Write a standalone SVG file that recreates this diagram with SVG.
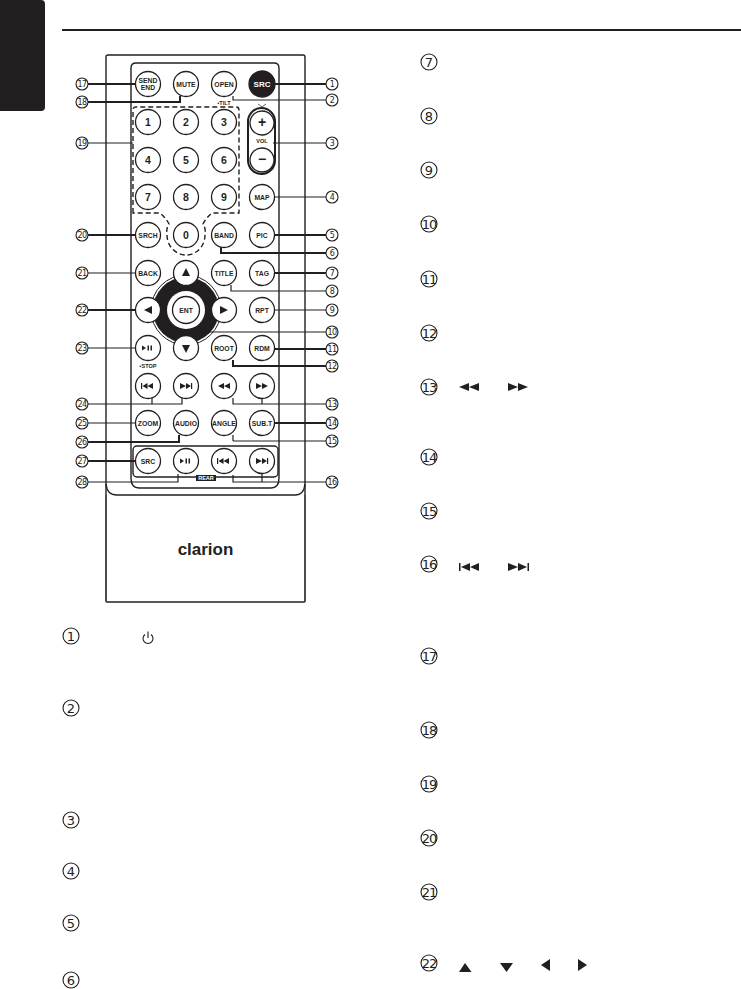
<svg xmlns="http://www.w3.org/2000/svg" width="741" height="989" viewBox="0 0 741 989">
<style>
.bg{fill:#fff}
.o{fill:none;stroke:#231f20;stroke-width:1.4}
.b circle{fill:#fff;stroke:#231f20;stroke-width:1.3}
.b text{font:bold 6.8px "Liberation Sans",Arial,sans-serif;fill:#231f20;text-anchor:middle}
.n text{font-size:10.5px}
.k{fill:#231f20}
.c{fill:none;stroke:#231f20;stroke-width:1.2}
.t{fill:none;stroke:#231f20;stroke-width:2}
.s circle{fill:#fff;stroke:#231f20;stroke-width:1.1}
.s text{font:8px "DejaVu Sans",sans-serif;fill:#231f20;text-anchor:middle;letter-spacing:-.6px}
.l circle{fill:#fff;stroke:#231f20;stroke-width:1.1}
.l text{font:13px "DejaVu Sans",sans-serif;fill:#231f20;text-anchor:middle}
.m{font:bold 5.5px "Liberation Sans",Arial,sans-serif;fill:#231f20;text-anchor:middle}
</style>
<rect class="bg" width="741" height="989"/>
<path class="k" d="M0 0H41Q45 0 45 4V107Q45 111 41 111H0Z"/>
<rect class="k" x="62" y="29" width="679" height="2"/>

<g id="remote">
<path class="o" d="M106 495V57Q106 55 108 55H303Q305 55 305 57V495"/>
<path class="o" d="M131 478V68Q131 63 136 63H274Q279 63 279 68V478"/>
<path class="o" d="M131 478Q131 488 139 488H271Q279 488 279 478"/>
<path class="o" d="M106 484Q107 495 117 495H295Q304 495 305 484"/>
<path d="M106 495V601Q106 602 107 602H304Q305 602 305 601V495" fill="none" stroke="#231f20" stroke-width="1.6"/>
<rect class="o" x="133" y="446" width="145" height="31" rx="4"/>
<path d="M133 213V110Q133 107 136 107H236Q239 107 239 110V213H212Q206 218 203 224Q206 228 205 235A19 20 0 0 1 167 235Q166 228 169 224Q166 218 160 213Z" fill="none" stroke="#231f20" stroke-width="1.4" stroke-dasharray="5 3"/>
<rect x="248" y="108" width="27" height="66" rx="13.5" fill="#fff" stroke="#231f20" stroke-width="2"/>
<circle cx="186" cy="310" r="35" fill="#fff" stroke="#231f20" stroke-width="1"/>
<circle class="k" cx="186" cy="310" r="33"/>
<text class="m" x="224" y="105">▪TILT</text>
<text class="m" x="262" y="143">VOL</text>
<text class="m" x="148" y="368">▪STOP</text>
<rect class="k" x="196" y="475" width="20" height="6"/>
<text x="206" y="480.300" font-family="Liberation Sans,sans-serif" font-size="5.500" font-weight="bold" fill="#fff" text-anchor="middle">REAR</text>
<path d="M258 104L262 107L266 104" fill="none" stroke="#231f20" stroke-width=".7"/>
<text x="205.500" y="555" font-family="Liberation Sans,sans-serif" font-size="17" font-weight="bold" fill="#231f20" text-anchor="middle">clarion</text>
</g>

<g id="connectors">
<path class="t" d="M88 84H136M88 102H180V96M88 235H136M88 310H136M88 442H179V435M88 461H136"/>
<path class="c" d="M88 143H133M88 273H136M88 348H136M88 404H182V398M152 404V398M88 423H136M88 482H178V474"/>
<path class="t" d="M275 84H326M275 235H326M221 247V253H326M275 273H326M274 349H326M233 360V366H326M275 423H326"/>
<path class="c" d="M233 96V100H326M273 143H326M274 197H326M231 285V291H326M274 310H326M190 325V332H326M233 398V404H326M262 398V404M233 441H326M233 435V441M233 475V482H326M262 474V482"/>
</g>

<g id="btn-send" class="b"><circle cx="148" cy="84" r="12.500"/><text x="148" y="83">SEND</text><text x="148" y="90">END</text></g>
<g id="btn-mute" class="b"><circle cx="186" cy="84" r="12.500"/><text x="186" y="86.500">MUTE</text></g>
<g id="btn-open" class="b"><circle cx="224" cy="84" r="12.500"/><text x="224" y="86.500">OPEN</text></g>
<g id="btn-src" class="b"><circle cx="262" cy="84" r="13" style="fill:#231f20"/><text x="262" y="87" style="fill:#fff;font-size:8px">SRC</text></g>
<g id="btn-1" class="b n"><circle cx="148" cy="122" r="12.500"/><text x="148" y="126">1</text></g>
<g id="btn-2" class="b n"><circle cx="186" cy="122" r="12.500"/><text x="186" y="126">2</text></g>
<g id="btn-3" class="b n"><circle cx="224" cy="122" r="12.500"/><text x="224" y="126">3</text></g>
<g id="btn-4" class="b n"><circle cx="148" cy="160" r="12.500"/><text x="148" y="164">4</text></g>
<g id="btn-5" class="b n"><circle cx="186" cy="160" r="12.500"/><text x="186" y="164">5</text></g>
<g id="btn-6" class="b n"><circle cx="224" cy="160" r="12.500"/><text x="224" y="164">6</text></g>
<g id="btn-7" class="b n"><circle cx="148" cy="197" r="12.500"/><text x="148" y="201">7</text></g>
<g id="btn-8" class="b n"><circle cx="186" cy="197" r="12.500"/><text x="186" y="201">8</text></g>
<g id="btn-9" class="b n"><circle cx="224" cy="197" r="12.500"/><text x="224" y="201">9</text></g>
<g id="btn-0" class="b n"><circle cx="186" cy="235" r="12.500"/><text x="186" y="239">0</text></g>
<g id="btn-plus" class="b n"><circle cx="262" cy="123" r="12"/><text x="262" y="127" style="font-size:14px">+</text></g>
<g id="btn-minus" class="b n"><circle cx="262" cy="160" r="12"/><text x="262" y="164" style="font-size:14px">−</text></g>
<g id="btn-map" class="b"><circle cx="262" cy="197" r="12.500"/><text x="262" y="199.500">MAP</text></g>
<g id="btn-srch" class="b"><circle cx="148" cy="235" r="12.500"/><text x="148" y="237.500">SRCH</text></g>
<g id="btn-band" class="b"><circle cx="224" cy="235" r="12.500"/><text x="224" y="237.500">BAND</text></g>
<g id="btn-pic" class="b"><circle cx="262" cy="235" r="12.500"/><text x="262" y="237.500">PIC</text></g>
<g id="btn-back" class="b"><circle cx="148" cy="273" r="12.500"/><text x="148" y="275.500">BACK</text></g>
<g id="btn-up" class="b"><circle cx="186" cy="273" r="12.500"/><path class="k" d="M186 268L190 276H182Z"/></g>
<g id="btn-title" class="b"><circle cx="224" cy="273" r="12.500"/><text x="224" y="275.500">TITLE</text></g>
<g id="btn-tag" class="b"><circle cx="262" cy="273" r="12.500"/><text x="262" y="275.500">TAG</text></g>
<g id="btn-left" class="b"><circle cx="148" cy="310" r="12.500"/><path class="k" d="M144 310L152 306V314Z"/></g>
<g id="btn-ent" class="b"><circle cx="186" cy="310" r="19" style="fill:#fff;stroke:none"/><circle cx="186" cy="310" r="13.500"/><text x="186" y="312.500">ENT</text></g>
<g id="btn-right" class="b"><circle cx="224" cy="310" r="12.500"/><path class="k" d="M228 310L220 306V314Z"/></g>
<g id="btn-rpt" class="b"><circle cx="262" cy="310" r="12.500"/><text x="262" y="312.500">RPT</text></g>
<g id="btn-play" class="b"><circle cx="148" cy="348" r="12.500"/><path class="k" d="M142 345.500V350.500L146 348ZM147.500 345.500H149V350.500H147.500ZM150.500 345.500H152V350.500H150.500Z"/></g>
<g id="btn-down" class="b"><circle cx="186" cy="348" r="12.500"/><path class="k" d="M186 353L190 345H182Z"/></g>
<g id="btn-root" class="b"><circle cx="224" cy="348" r="12.500"/><text x="224" y="350.500">ROOT</text></g>
<g id="btn-rdm" class="b"><circle cx="262" cy="348" r="12.500"/><text x="262" y="350.500">RDM</text></g>
<g id="btn-prev" class="b"><circle cx="148" cy="386" r="12.500"/><path class="k" d="M141 383H142.200V389H141ZM142.500 386L147.500 383V389ZM147.500 386L153 383V389Z"/></g>
<g id="btn-next" class="b"><circle cx="186" cy="386" r="12.500"/><path class="k" d="M191 383H192.200V389H191ZM191 386L186 383V389ZM186 386L180 383V389Z"/></g>
<g id="btn-rew" class="b"><circle cx="224" cy="386" r="12.500"/><path class="k" d="M218 386L224 383V389ZM224 386L230 383V389Z"/></g>
<g id="btn-ff" class="b"><circle cx="262" cy="386" r="12.500"/><path class="k" d="M268 386L262 383V389ZM262 386L256 383V389Z"/></g>
<g id="btn-zoom" class="b"><circle cx="148" cy="423" r="12.500"/><text x="148" y="425.500">ZOOM</text></g>
<g id="btn-audio" class="b"><circle cx="186" cy="423" r="12.500"/><text x="186" y="425.500">AUDIO</text></g>
<g id="btn-angle" class="b"><circle cx="224" cy="423" r="12.500"/><text x="224" y="425.500">ANGLE</text></g>
<g id="btn-subt" class="b"><circle cx="262" cy="423" r="12.500"/><text x="262" y="425.500">SUB.T</text></g>
<g id="btn-rsrc" class="b"><circle cx="148" cy="461" r="12.500"/><text x="148" y="463.500">SRC</text></g>
<g id="btn-rplay" class="b"><circle cx="186" cy="461" r="12.500"/><path class="k" d="M180 458.500V463.500L184 461ZM185.500 458.500H187V463.500H185.500ZM188.500 458.500H190V463.500H188.500Z"/></g>
<g id="btn-rprev" class="b"><circle cx="224" cy="461" r="12.500"/><path class="k" d="M217 458H218.200V464H217ZM218.500 461L223.500 458V464ZM223.500 461L229 458V464Z"/></g>
<g id="btn-rnext" class="b"><circle cx="262" cy="461" r="12.500"/><path class="k" d="M267 458H268.200V464H267ZM267 461L262 458V464ZM262 461L256 458V464Z"/></g>

<g id="callouts-left" class="s">
<circle cx="82" cy="84" r="6"/><text x="82" y="87">17</text>
<circle cx="82" cy="102" r="6"/><text x="82" y="105">18</text>
<circle cx="82" cy="143" r="6"/><text x="82" y="146">19</text>
<circle cx="82" cy="235" r="6"/><text x="82" y="238">20</text>
<circle cx="82" cy="273" r="6"/><text x="82" y="276">21</text>
<circle cx="82" cy="310" r="6"/><text x="82" y="313">22</text>
<circle cx="82" cy="348" r="6"/><text x="82" y="351">23</text>
<circle cx="82" cy="404" r="6"/><text x="82" y="407">24</text>
<circle cx="82" cy="423" r="6"/><text x="82" y="426">25</text>
<circle cx="82" cy="442" r="6"/><text x="82" y="445">26</text>
<circle cx="82" cy="461" r="6"/><text x="82" y="464">27</text>
<circle cx="82" cy="482" r="6"/><text x="82" y="485">28</text>
</g>
<g id="callouts-right" class="s">
<circle cx="332" cy="84" r="6"/><text x="332" y="87">1</text>
<circle cx="332" cy="100" r="6"/><text x="332" y="103">2</text>
<circle cx="332" cy="143" r="6"/><text x="332" y="146">3</text>
<circle cx="332" cy="197" r="6"/><text x="332" y="200">4</text>
<circle cx="332" cy="235" r="6"/><text x="332" y="238">5</text>
<circle cx="332" cy="253" r="6"/><text x="332" y="256">6</text>
<circle cx="332" cy="273" r="6"/><text x="332" y="276">7</text>
<circle cx="332" cy="291" r="6"/><text x="332" y="294">8</text>
<circle cx="332" cy="310" r="6"/><text x="332" y="313">9</text>
<circle cx="332" cy="332" r="6"/><text x="332" y="335">10</text>
<circle cx="332" cy="349" r="6"/><text x="332" y="352">11</text>
<circle cx="332" cy="366" r="6"/><text x="332" y="369">12</text>
<circle cx="332" cy="404" r="6"/><text x="332" y="407">13</text>
<circle cx="332" cy="423" r="6"/><text x="332" y="426">14</text>
<circle cx="332" cy="441" r="6"/><text x="332" y="444">15</text>
<circle cx="332" cy="482" r="6"/><text x="332" y="485">16</text>
</g>

<g id="legend-left" class="l">
<circle cx="71" cy="636" r="8"/><text x="71" y="641">1</text>
<circle cx="71" cy="708" r="8"/><text x="71" y="713">2</text>
<circle cx="71" cy="820" r="8"/><text x="71" y="825">3</text>
<circle cx="71" cy="871" r="8"/><text x="71" y="876">4</text>
<circle cx="71" cy="923" r="8"/><text x="71" y="928">5</text>
<circle cx="71" cy="980" r="8"/><text x="71" y="985">6</text>
</g>
<g id="legend-right" class="l">
<circle cx="429" cy="62" r="8"/><text x="429" y="67">7</text>
<circle cx="429" cy="116" r="8"/><text x="429" y="121">8</text>
<circle cx="429" cy="170" r="8"/><text x="429" y="175">9</text>
<circle cx="429" cy="224" r="8"/><text x="429" y="229" style="letter-spacing:-1px">10</text>
<circle cx="429" cy="279" r="8"/><text x="429" y="284" style="letter-spacing:-1px">11</text>
<circle cx="429" cy="333" r="8"/><text x="429" y="338" style="letter-spacing:-1px">12</text>
<circle cx="429" cy="387" r="8"/><text x="429" y="392" style="letter-spacing:-1px">13</text>
<circle cx="429" cy="457" r="8"/><text x="429" y="462" style="letter-spacing:-1px">14</text>
<circle cx="429" cy="511" r="8"/><text x="429" y="516" style="letter-spacing:-1px">15</text>
<circle cx="429" cy="564" r="8"/><text x="429" y="569" style="letter-spacing:-1px">16</text>
<circle cx="429" cy="656" r="8"/><text x="429" y="661" style="letter-spacing:-1px">17</text>
<circle cx="429" cy="730" r="8"/><text x="429" y="735" style="letter-spacing:-1px">18</text>
<circle cx="429" cy="784" r="8"/><text x="429" y="789" style="letter-spacing:-1px">19</text>
<circle cx="429" cy="838" r="8"/><text x="429" y="843" style="letter-spacing:-1px">20</text>
<circle cx="429" cy="892" r="8"/><text x="429" y="897" style="letter-spacing:-1px">21</text>
<circle cx="429" cy="963" r="8"/><text x="429" y="968" style="letter-spacing:-1px">22</text>
</g>

<g id="legend-icons">
<path d="M145 634.500A5 5 0 1 0 151 634.500M148 631.500V638" fill="none" stroke="#231f20" stroke-width="1.100"/>
<path class="k" d="M459 387L469 383V391ZM469 387L479 383V391ZM508 383L518 387L508 391ZM518 383L528 387L518 391Z"/>
<path class="k" d="M459 563H460.500V571H459ZM461 567L470 563V571ZM470 567L479 563V571ZM508 563L518 567L508 571ZM518 563L527 567L518 571ZM527.500 563H529V571H527.500Z"/>
<path class="k" d="M465 963L471.500 972H459ZM500 963H513L506.500 972ZM550 959V971L541 965ZM578 959L587 965L578 971Z"/>
</g>
</svg>
